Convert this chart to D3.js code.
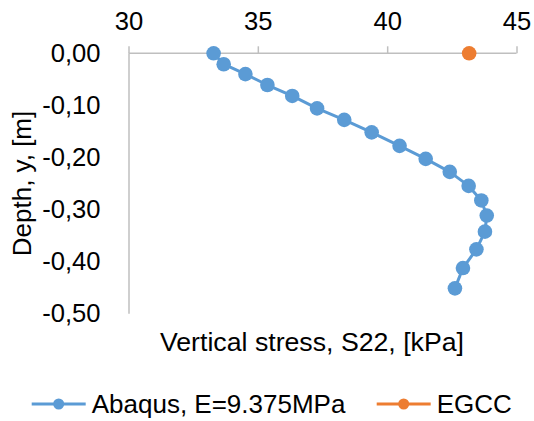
<!DOCTYPE html>
<html><head><meta charset="utf-8">
<script src="https://cdn.jsdelivr.net/npm/d3@7"></script>
<style>body{margin:0;background:#fff}svg{display:block}text{font-family:"Liberation Sans",Arial,sans-serif;fill:#000}</style>
</head><body>
<svg id="c" width="534" height="421"></svg>
<script>
const abaqusStress = [33.29,33.68,34.52,35.37,36.33,37.29,38.34,39.40,40.48,41.49,42.42,43.15,43.64,43.85,43.78,43.45,42.93,42.62];
const abaqusDepth  = [0.000,-0.021,-0.040,-0.061,-0.082,-0.106,-0.128,-0.152,-0.178,-0.203,-0.228,-0.255,-0.283,-0.312,-0.343,-0.377,-0.413,-0.452];
const egccStress = [43.17];
const egccDepth  = [0.000];
const xTicks = [30,35,40,45];
const yTicks = [0,-0.1,-0.2,-0.3,-0.4,-0.5];
const seriesNames = ["Abaqus, E=9.375MPa","EGCC"];
const colors = ["#5B9BD5","#ED7D31"];

const svg = d3.select("#c");
const x = d3.scaleLinear().domain([30,45]).range([128.5,516.5]);
const y = d3.scaleLinear().domain([0,-0.5]).range([53.3,313.3]);
const axisColor = "#BFBFBF";
const FONT = "Liberation Sans, Arial, sans-serif";

// x axis at top (y=0)
const xa = svg.append("g").attr("transform",`translate(0,${y(0)})`)
  .call(d3.axisTop(x).tickValues(xTicks).tickSize(7).tickPadding(16).tickFormat(d=>d));
xa.select(".domain").attr("stroke",axisColor).attr("stroke-width",1.5).attr("d",`M${x(30)},0H${x(45)}`);
xa.selectAll(".tick line").attr("stroke",axisColor).attr("stroke-width",1.5);
xa.selectAll(".tick text").attr("font-size",25.6).attr("font-family",FONT).attr("fill","#000");

// y axis line
const ya = svg.append("g").attr("transform",`translate(${x(30)},0)`)
  .call(d3.axisLeft(y).tickValues(yTicks).tickSize(0).tickPadding(28)
    .tickFormat(d=>d.toFixed(2).replace(".",",").replace("-0,00","0,00")));
ya.select(".domain").attr("stroke",axisColor).attr("stroke-width",1.5);
ya.selectAll(".tick text").attr("font-size",25.6).attr("font-family",FONT).attr("fill","#000");

// series
const abaqus = abaqusStress.map((v,i)=>({x:v,y:abaqusDepth[i]}));
const egcc = egccStress.map((v,i)=>({x:v,y:egccDepth[i]}));
const line = d3.line().x(d=>x(d.x)).y(d=>y(d.y));
svg.append("path").datum(abaqus).attr("d",line).attr("fill","none")
  .attr("stroke",colors[0]).attr("stroke-width",3).attr("stroke-linejoin","round");
svg.append("g").selectAll("circle").data(abaqus).join("circle")
  .attr("cx",d=>x(d.x)).attr("cy",d=>y(d.y)).attr("r",7.3).attr("fill",colors[0]);
svg.append("g").selectAll("circle").data(egcc).join("circle")
  .attr("cx",d=>x(d.x)).attr("cy",d=>y(d.y)).attr("r",7.3).attr("fill",colors[1]);

// axis titles
svg.append("text").attr("x",312).attr("y",351).attr("text-anchor","middle").attr("font-size",26.7)
  .text("Vertical stress, S22, [kPa]");
svg.append("text").attr("transform","translate(31,183.5) rotate(-90)").attr("text-anchor","middle").attr("font-size",26)
  .text("Depth, y, [m]");

// legend
const legX = [31.7, 376.7];
seriesNames.forEach((n,i)=>{
  const g = svg.append("g").attr("transform",`translate(${legX[i]},404)`);
  g.append("line").attr("x1",0).attr("x2",54).attr("y1",0).attr("y2",0).attr("stroke",colors[i]).attr("stroke-width",3.2);
  g.append("circle").attr("cx",27).attr("cy",0).attr("r",5.5).attr("fill",colors[i]);
  g.append("text").attr("x",60).attr("y",9.3).attr("font-size",26).text(n);
});
</script>
</body></html>
